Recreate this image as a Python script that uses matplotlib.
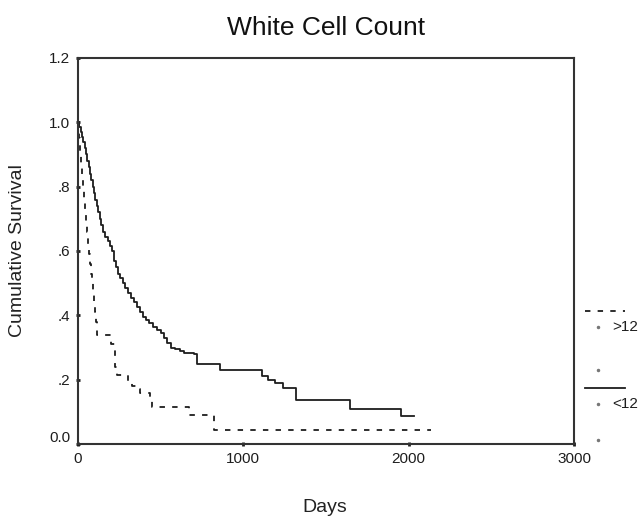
import matplotlib
matplotlib.use("Agg")
import matplotlib.pyplot as plt
import matplotlib.transforms as mtransforms
from matplotlib.lines import Line2D

plt.rcParams['font.family'] = ['Liberation Sans', 'DejaVu Sans']

# Kaplan-Meier steps
days_lt12 = [0, 8, 16, 24, 32, 40, 48, 56, 64, 72, 80, 88, 96, 104, 112, 122, 132, 142,
             152, 165, 180, 195, 205, 215, 228, 242, 256, 270, 285, 300, 318, 336, 354,
             372, 392, 412, 432, 452, 475, 500, 520, 540, 560, 585, 615, 640, 700, 720,
             860, 1110, 1150, 1190, 1240, 1320, 1645, 1955, 2030]
surv_lt12 = [1.0, 0.985, 0.97, 0.955, 0.94, 0.92, 0.90, 0.88, 0.86, 0.84, 0.82, 0.80,
             0.78, 0.76, 0.74, 0.72, 0.70, 0.68, 0.66, 0.645, 0.63, 0.615, 0.60, 0.57,
             0.55, 0.53, 0.515, 0.50, 0.485, 0.47, 0.455, 0.44, 0.425, 0.41, 0.395,
             0.385, 0.375, 0.365, 0.355, 0.345, 0.33, 0.315, 0.30, 0.295, 0.29, 0.283,
             0.28, 0.25, 0.23, 0.21, 0.20, 0.19, 0.175, 0.137, 0.109, 0.087, 0.087]

days_gt12 = [0, 6, 12, 18, 24, 30, 36, 42, 48, 54, 60, 66, 72, 78, 84, 90, 96, 102,
             108, 115, 200, 225, 235, 300, 325, 350, 375, 435, 445, 670, 825, 2135]
surv_gt12 = [1.0, 0.95, 0.91, 0.87, 0.83, 0.79, 0.75, 0.72, 0.69, 0.66, 0.62, 0.59,
             0.56, 0.53, 0.50, 0.47, 0.44, 0.41, 0.38, 0.34, 0.31, 0.24, 0.215, 0.195,
             0.18, 0.17, 0.16, 0.14, 0.115, 0.09, 0.045, 0.045]

x_ticks = [0, 1000, 2000, 3000]
y_ticks = [0.0, 0.2, 0.4, 0.6, 0.8, 1.0, 1.2]
y_ticklabels = ['0.0', '.2', '.4', '.6', '.8', '1.0', '1.2']
group_labels = ['>12', '<12']

W, H = 642, 520
fig = plt.figure(figsize=(W / 100, H / 100), dpi=100)
ax = fig.add_axes([78 / W, 1 - 444 / H, (574 - 78) / W, (444 - 58) / H])

ink = '#1e1e1e'
ax.step(days_lt12, surv_lt12, where='post', color=ink, lw=1.3)
ax.step(days_gt12, surv_gt12, where='post', color=ink, lw=1.3, linestyle=(0, (3, 4)))

ax.set_xlim(0, 3000)
ax.set_ylim(0, 1.2)
ax.set_xticks(x_ticks)
ax.set_xticklabels([str(t) for t in x_ticks])
ax.set_yticks(y_ticks)
ax.set_yticklabels(y_ticklabels)
ax.tick_params(length=3, width=2, direction='inout', labelsize=11, colors=ink, pad=4)
for sp in ax.spines.values():
    sp.set_color('#333333')
    sp.set_linewidth(1.5)

# 0.0 label sits a bit higher than its tick in the original
lbl0 = ax.get_yticklabels()[0]
lbl0.set_transform(lbl0.get_transform() + mtransforms.ScaledTranslation(0, 8 / 100, fig.dpi_scale_trans))

fig.text(326 / W, 1 - 28 / H, 'White Cell Count', ha='center', va='center', fontsize=19, color='#111111')
fig.text(18 / W, 1 - 251 / H, 'Cumulative Survival', ha='center', va='center', rotation=90,
         fontsize=14, color='#222222')
fig.text(325 / W, 1 - 508 / H, 'Days', ha='center', va='center', fontsize=14, color='#222222')

# legend on the right, drawn as in the original
fig.add_artist(Line2D([585 / W, 625 / W], [1 - 311 / H] * 2, color=ink, lw=1.3,
                      linestyle=(0, (3, 4)), transform=fig.transFigure))
fig.add_artist(Line2D([585 / W, 625 / W], [1 - 388 / H] * 2, color=ink, lw=1.3,
                      transform=fig.transFigure))
for yy in [327, 370, 404, 440]:
    fig.add_artist(Line2D([598 / W], [1 - yy / H], marker='o', ms=1.5, color='#777777',
                          linestyle='none', transform=fig.transFigure))
fig.text(612 / W, 1 - 327 / H, group_labels[0], ha='left', va='center', fontsize=11, color=ink)
fig.text(612 / W, 1 - 404 / H, group_labels[1], ha='left', va='center', fontsize=11, color=ink)

fig.savefig('out.png', dpi=100)
